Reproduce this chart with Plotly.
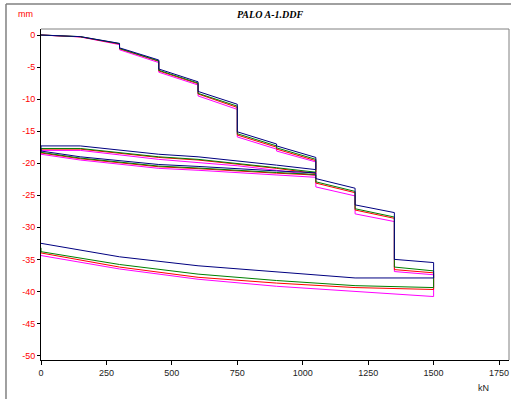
import plotly.graph_objects as go

# Load path (kN), common to all gauges
load_kN = [0, 150, 300, 300, 450, 450, 600, 600, 750, 750, 900, 900, 1050, 1050,
           900, 750, 600, 450, 300, 150, 0,
           0, 150, 300, 450, 600, 750, 900, 1050,
           1050, 1200, 1200, 1350, 1350, 1500, 1500,
           1200, 900, 600, 300, 0, 0]

# Settlement (mm) per gauge
blue_mm = [0, -0.25, -1.3, -2.0, -3.9, -5.3, -7.3, -8.8, -10.8, -15.1, -17.0, -17.3, -19.1, -21.0,
           -20.3, -19.6, -19.0, -18.6, -17.9, -17.3, -17.3,
           -18.1, -19.0, -19.6, -20.2, -20.5, -20.9, -21.2, -21.5,
           -22.4, -23.9, -26.5, -27.7, -35.0, -35.5, -37.9,
           -37.9, -36.9, -36.0, -34.6, -32.6, -32.5]
green_mm = [0, -0.25, -1.35, -2.1, -4.05, -5.5, -7.5, -9.1, -11.1, -15.4, -17.3, -17.6, -19.4, -21.4,
            -20.7, -20.0, -19.4, -19.0, -18.3, -17.7, -17.7,
            -18.3, -19.2, -19.85, -20.45, -20.75, -21.15, -21.45, -21.75,
            -22.9, -24.4, -27.1, -28.4, -36.2, -36.8, -39.4,
            -39.1, -38.3, -37.3, -35.8, -33.8, -33.2]
red_mm = [0, -0.28, -1.4, -2.15, -4.1, -5.6, -7.6, -9.2, -11.3, -15.6, -17.5, -17.8, -19.6, -21.6,
          -20.8, -20.1, -19.5, -19.1, -18.4, -17.8, -17.8,
          -18.4, -19.3, -19.95, -20.55, -20.85, -21.25, -21.55, -21.85,
          -23.1, -24.6, -27.3, -28.6, -36.6, -37.1, -39.7,
          -39.4, -38.7, -37.8, -36.2, -34.0, -33.9]
magenta_mm = [0, -0.3, -1.5, -2.3, -4.3, -5.8, -7.8, -9.5, -11.6, -15.9, -17.8, -18.1, -19.8, -21.9,
              -21.1, -20.4, -19.9, -19.4, -18.7, -18.0, -18.0,
              -18.6, -19.5, -20.2, -20.8, -21.1, -21.5, -21.9, -22.2,
              -23.7, -25.1, -27.9, -29.1, -36.9, -37.4, -40.8,
              -40.0, -39.2, -38.1, -36.5, -34.4, -34.3]

x_ticks = [0, 250, 500, 750, 1000, 1250, 1500, 1750]
y_ticks = [0, -5, -10, -15, -20, -25, -30, -35, -40, -45, -50]

series = [("magenta", magenta_mm, "#FF00FF"),
          ("red", red_mm, "#FF0000"),
          ("green", green_mm, "#008000"),
          ("blue", blue_mm, "#000080")]

fig = go.Figure()
for name, vals, col in series:
    fig.add_trace(go.Scatter(x=load_kN, y=vals, mode="lines", name=name,
                             line=dict(color=col, width=1), showlegend=False))

fig.update_layout(
    width=511, height=399,
    margin=dict(l=41, r=2, t=29, b=39, autoexpand=False),
    paper_bgcolor="white", plot_bgcolor="white",
    font=dict(family="Arial, Liberation Sans, sans-serif", size=9, color="#000000"),
)
fig.update_xaxes(range=[0, 1788], tickvals=x_ticks, ticktext=[str(v) for v in x_ticks],
                 automargin=False,
                 showgrid=False, zeroline=False, showline=True, linecolor="#000000", linewidth=1,
                 ticks="outside", ticklen=4, tickcolor="#000000",
                 tickfont=dict(size=9, color="#222222"))
fig.update_yaxes(range=[-50.7, 0.94], tickvals=y_ticks, ticktext=[str(v) for v in y_ticks],
                 automargin=False,
                 showgrid=False, zeroline=False, showline=True, linecolor="#000000", linewidth=1,
                 ticks="outside", ticklen=3, tickcolor="#000000",
                 tickfont=dict(size=9, color="#FF0000"))

# plot-area top/right border (gray)
fig.add_shape(type="line", xref="paper", yref="paper", x0=0, x1=1, y0=1, y1=1,
              line=dict(color="#808080", width=1))
fig.add_shape(type="line", xref="paper", yref="paper", x0=1, x1=1, y0=0, y1=1,
              line=dict(color="#808080", width=1))
# outer frame (gray)
fig.add_shape(type="line", xref="paper", yref="paper", x0=-0.0748, x1=1.01, y0=1.0755, y1=1.0755,
              line=dict(color="#808080", width=1.5))
fig.add_shape(type="line", xref="paper", yref="paper", x0=-0.0748, x1=-0.0748, y0=-0.13, y1=1.0755,
              line=dict(color="#808080", width=1.5))

fig.add_annotation(text="<b><i>PALO A-1.DDF</i></b>", xref="paper", yref="paper",
                   x=(270 - 41) / 468, y=(360 - 15) / 331, showarrow=False,
                   font=dict(family="Times New Roman, Liberation Serif, serif", size=10, color="#000000"),
                   xanchor="center", yanchor="middle")
fig.add_annotation(text="mm", xref="paper", yref="paper",
                   x=(25 - 41) / 468, y=(360 - 14) / 331, showarrow=False,
                   font=dict(size=9, color="#FF0000"), xanchor="center", yanchor="middle")
fig.add_annotation(text="kN", xref="paper", yref="paper",
                   x=(483 - 41) / 468, y=(360 - 388) / 331, showarrow=False,
                   font=dict(size=9, color="#222222"), xanchor="center", yanchor="middle")

fig.write_html("out.html", config={"displayModeBar": False},
               post_script="document.body.style.margin='0';document.body.style.overflow='hidden';")
